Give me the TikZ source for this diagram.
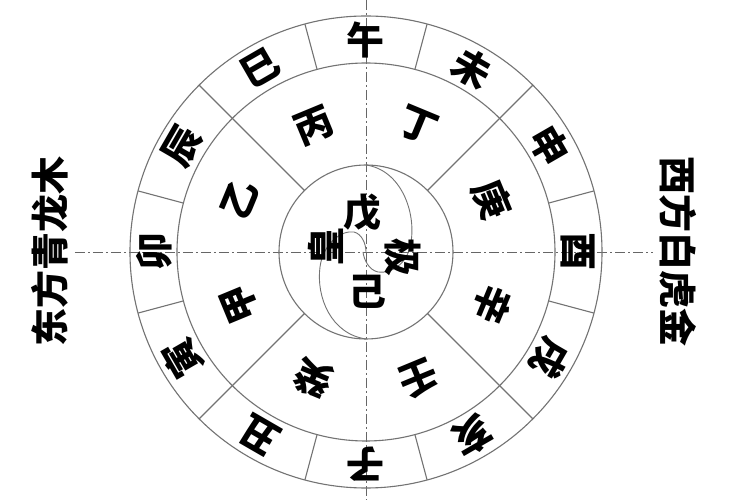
\documentclass[tikz,border=0pt]{standalone}
\usepackage{fontspec}
\newfontfamily\cjk{Noto Sans CJK SC}

\tikzset{
  linea/.style={draw=black!55, line width=1.1pt},
  eje/.style={draw=black!60, line width=0.9pt, dash pattern=on 10pt off 3pt on 2pt off 3pt},
  letra/.style={font=\cjk\bfseries\fontsize{38}{38}\selectfont, inner sep=0pt}
}

\begin{document}
\begin{tikzpicture}[x=1pt, y=1pt, every node/.style={letra}]
            \useasboundingbox[fill=white] (-366,-248) rectangle (384,252);

            % Ejes
            \draw[eje] (-291,0) -- (287,0);
            \draw[eje] (0,252) -- (0,-248);

            % Circulos
            \draw[linea] (0,0) circle (236);
            \draw[linea] (0,0) circle (189);
            \draw[linea] (0,0) circle (87);
            \foreach \a in {15,45,...,345}
              \draw[linea] (\a:189) -- (\a:236);
            \foreach \a in {45,135,225,315}
              \draw[linea] (\a:87) -- (\a:189);

            % Curvas del centro
            \draw[linea, line width=0.9pt] (0,87) .. controls (35,82) and (50,40) .. (45,10)
                  .. controls (42,-12) and (25,-22) .. (12,-20)
                  .. controls (3,-18) and (-2,-8) .. (-3,0);
            \draw[linea, line width=0.9pt] (0,-87) .. controls (-35,-82) and (-50,-45) .. (-46,-15)
                  .. controls (-43,8) and (-25,22) .. (-12,20)
                  .. controls (-4,18) and (0,8) .. (0,0);

            % Ramas
            \node[rotate=0]    (wu)   at (90:212)   {午};
            \node[rotate=-30]  (wei)  at (60:212)   {未};
            \node[rotate=-60]  (shen) at (30:212)   {申};
            \node[rotate=-90]  (you)  at (0:212)    {酉};
            \node[rotate=-120] (xu)   at (-30:212)  {戌};
            \node[rotate=-150] (hai)  at (-60:212)  {亥};
            \node[rotate=180]  (zi)   at (-90:212)  {子};
            \node[rotate=150]  (chou) at (-120:212) {丑};
            \node[rotate=120]  (yin)  at (-150:212) {寅};
            \node[rotate=90]   (mao)  at (180:212)  {卯};
            \node[rotate=60]   (chen) at (150:212)  {辰};
            \node[rotate=30]   (si)   at (120:212)  {巳};

            % Tallos
            \node[rotate=22.5]   (bing) at (112.5:137)  {丙};
            \node[rotate=-22.5]  (ding) at (67.5:137)   {丁};
            \node[rotate=-67.5]  (geng) at (22.5:137)   {庚};
            \node[rotate=-112.5] (xin)  at (-22.5:137)  {辛};
            \node[rotate=-157.5] (ren)  at (-67.5:137)  {壬};
            \node[rotate=157.5]  (gui)  at (-112.5:137) {癸};
            \node[rotate=112.5]  (jia)  at (-157.5:137) {甲};
            \node[rotate=67.5]   (yi)   at (157.5:137)  {乙};

            % Centro
            \node (wuc)   at (-3,39)  {戊};
            \node (jic)   at (2,-40)  {己};
            \node[rotate=90]  (huang) at (-40,5) {皇};
            \node[rotate=-90] (ji)    at (37,-6) {极};

            % Lados
            \node[rotate=90]  (este)  at (-316,0) {东方青龙木};
            \node[rotate=-90] (oeste) at (312,0)  {西方白虎金};
          \end{tikzpicture}
\end{document}
